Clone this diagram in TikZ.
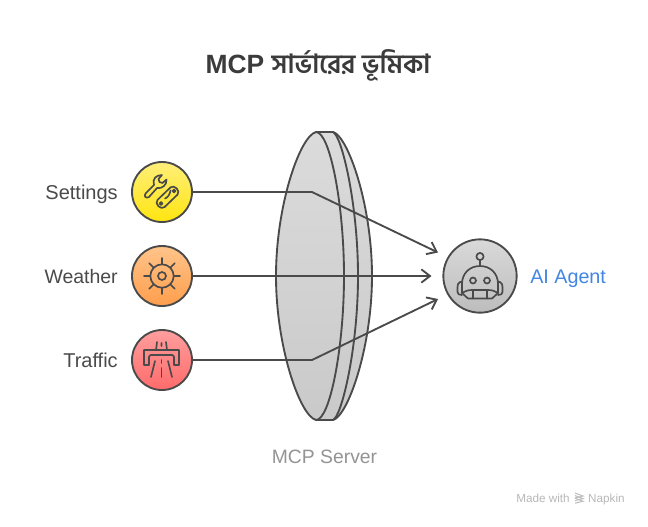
\documentclass[tikz,border=0pt]{standalone}
\usepackage{fontspec}
\setmainfont{Liberation Sans}
\newfontfamily\bn[Script=Bengali]{Hind Siliguri}
\usetikzlibrary{arrows.meta,shadings,calc}
\definecolor{ink}{HTML}{4A4A4A}
\tikzset{
 px/.style={x=0.75pt,y=-0.75pt},
 lbl/.style={font=\fontsize{15}{16}\selectfont,text=ink,inner sep=0pt},
 rnd/.style={circle,draw=ink,line width=1.4pt,minimum size=45pt,inner sep=0pt},
 icn/.style={draw=ink,line width=1.25pt,line cap=round,line join=round,fill=none},
 conn/.style={draw=ink,line width=1.4pt},
 arr/.style={-{Straight Barb[length=6.5pt,width=10pt,line width=1.4pt]}},
 lens/.style={draw=ink,line width=1.4pt,line join=round},
}
\definecolor{yt}{HTML}{FFEF7A}\definecolor{yb}{HTML}{FFE50F}
\definecolor{ot}{HTML}{FFC48A}\definecolor{ob}{HTML}{FF9E4D}
\definecolor{rt}{HTML}{FF9E9E}\definecolor{rb}{HTML}{FF6B6B}
\definecolor{gt}{HTML}{D9D9D9}\definecolor{gb}{HTML}{BDBDBD}
\begin{document}
\begin{tikzpicture}[px]
\useasboundingbox (0,0) rectangle (648,526);
\fill[white] (0,0) rectangle (648,526);
% title
\node (title) at (318,65) {\fontsize{19.8}{22}\selectfont\bfseries\textcolor{ink!80!black}{MCP {\bn সার্ভারের ভূমিকা}}};
% lens
\shade[top color=black!14,bottom color=black!21,lens] (316,132) .. controls (300,136) and (276,205) .. (276,276) .. controls (276,347) and (300,416) .. (316,420) -- (333,420) .. controls (348,416) and (372,347) .. (372,276) .. controls (372,205) and (348,136) .. (333,132) -- cycle;
\draw[lens] (316,132) .. controls (330,132) and (344,205) .. (344,276) .. controls (344,347) and (330,420) .. (316,420);
\draw[lens] (333,132) .. controls (342,136) and (358,205) .. (358,276) .. controls (358,347) and (342,416) .. (333,420);
% nodes
\node[rnd,top color=yt,bottom color=yb] (set) at (162,192) {};
\node[rnd,top color=ot,bottom color=ob] (wea) at (162,276) {};
\node[rnd,top color=rt,bottom color=rb] (tra) at (162,360) {};
\node[rnd,minimum size=55pt,top color=gt,bottom color=gb] (ai) at (480,276) {};
\coordinate (b1) at (312,192);
\coordinate (b3) at (312,360);
\coordinate (e1) at (438,252.5);
\coordinate (e2) at (431.5,276);
\coordinate (e3) at (438,299);
\draw[conn,arr] (set.east) -- (b1) -- (e1);
\draw[conn,arr] (wea.east) -- (e2);
\draw[conn,arr] (tra.east) -- (b3) -- (e3);
% labels
\node[lbl,anchor=base east] (l1) at (118,199) {Settings};
\node[lbl,anchor=base east,font=\fontsize{14.6}{16}\selectfont] (l2) at (118,283) {Weather};
\node[lbl,anchor=base east] (l3) at (118,367) {Traffic};
\node[lbl,anchor=base west,font=\fontsize{14.8}{16}\selectfont,text={rgb,255:red,66;green,133;blue,226}] (l4) at (530,283) {AI Agent};
\node[lbl,anchor=base,font=\fontsize{14.5}{16}\selectfont,text=black!42] (l5) at (324.5,463) {MCP Server};
\node[inner sep=0pt,anchor=base west,text=black!28,font=\fontsize{8.8}{10}\selectfont] (l6) at (516,502) {Made with};
\node[inner sep=0pt,anchor=base east,text=black!28,font=\fontsize{8.8}{10}\selectfont] (l7) at (625,502) {Napkin};
\foreach \y in {0,2.6,5.2}\draw[black!25,line width=.8pt] (575,493+\y) -- (583,496+\y) -- (575,498+\y);
% settings icon
\draw[icn] (146,193) -- (154,185) .. controls (152,179) and (156,175) .. (162,175) -- (158.5,179) -- (159.5,182) -- (162.5,183) -- (166.5,179.5) .. controls (167,185) and (162,189) .. (157,188) -- (149,197) .. controls (146,199) and (143,196) .. (146,193) -- cycle;
\draw[icn] (157.5,199.9) -- (170.5,187.4) .. controls (174,184) and (181,191) .. (177.5,194.6) -- (164.5,207.1) .. controls (161,210.5) and (154,203.5) .. (157.5,199.9) -- cycle;
\draw[icn] (161,203.5) circle (1.5);
\draw[icn] (174,191) circle (1.5);
\draw[icn] (165,198.5) .. controls (168,197.5) and (170,194) .. (170.5,190.5);
% weather icon
\draw[icn] (162,276) circle (11.7);
\draw[icn] (162,276) circle (4);
\foreach \a in {0,45,...,315}\draw[icn] ($(162,276)+(\a:11.7)$) -- ($(162,276)+(\a:18)$);
% traffic
\draw[icn] (144,365) -- (144,350) -- (179,350) -- (179,365) -- (174,365) -- (174,357) .. controls (174,356) and (173,355) .. (172,355) -- (151,355) .. controls (150,355) and (149,356) .. (149,357) -- (149,365) -- cycle;
\draw[icn] (155,361) -- (151,377) (168,361) -- (172,377);
\draw[icn] (161.5,360) -- (161.5,363) (161.5,368) -- (161.5,377);
\draw[icn] (157,342) -- (156,350) (166,342) -- (167,350) (161.5,343) -- (161.5,346);
% robot
\draw[icn] (480,256.5) circle (3.6);
\draw[icn] (480,260.1) -- (480,266);
\draw[icn] (462,293) -- (462,284) .. controls (462,273) and (470,266) .. (480,266) .. controls (490,266) and (498,273) .. (498,284) -- (498,293);
\draw[icn] (462,282) -- (460,282) .. controls (458,283) and (457.5,285) .. (457.5,287) -- (457.5,292) .. controls (457.5,294) and (459,295) .. (462,295);
\draw[icn] (498,282) -- (500,282) .. controls (502,283) and (502.5,285) .. (502.5,287) -- (502.5,292) .. controls (502.5,294) and (501,295) .. (498,295);
\draw[icn] (462,293) .. controls (465,291) and (468,290) .. (472,290) -- (488,290) .. controls (492,290) and (495,291) .. (498,293);
\draw[icn] (462,293) -- (468,298.5) -- (492,298.5) -- (498,293);
\draw[icn] (473,290) -- (473,298.5) (487,290) -- (487,298.5);
\draw[icn] (473,280.5) circle (3);
\draw[icn] (487,280.5) circle (3);
\end{tikzpicture}
\end{document}
